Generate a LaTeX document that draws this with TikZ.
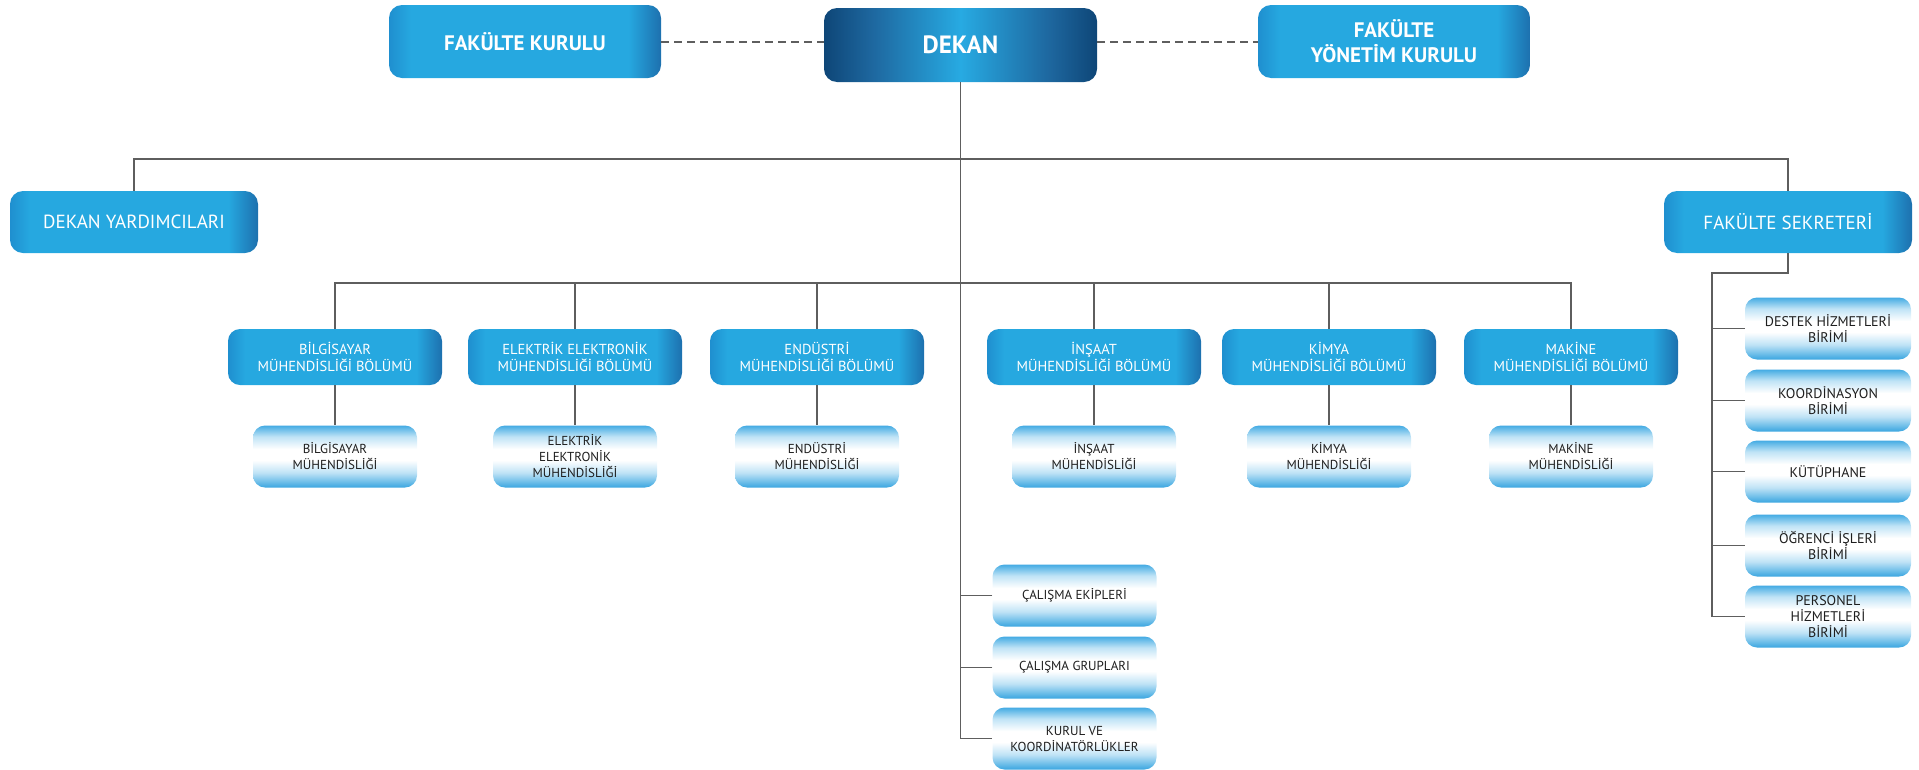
\documentclass[tikz,border=0pt]{standalone}
\usepackage{fontspec}
\setmainfont{PT Sans}
\definecolor{bL}{HTML}{1F8FCF}
\definecolor{bM}{HTML}{26A8E0}
\definecolor{bR}{HTML}{1D70AE}
\definecolor{dk}{HTML}{0E4677}
\definecolor{dk2}{HTML}{1E68A0}
\definecolor{br}{HTML}{27AAE2}
\definecolor{sb}{HTML}{3AA6E0}
\definecolor{sb2}{HTML}{44ABE3}
\definecolor{sl}{HTML}{BFE3F6}
\definecolor{lineC}{HTML}{5E5E5E}
\definecolor{txtC}{HTML}{1E1E1E}
\pgfdeclarehorizontalshading{blueh}{100bp}{color(0bp)=(bL); color(25bp)=(bL); color(29bp)=(bM); color(69bp)=(bM); color(75bp)=(bR); color(100bp)=(bR)}
\pgfdeclarehorizontalshading{dekanh}{100bp}{color(0bp)=(dk); color(25bp)=(dk); color(34bp)=(dk2); color(50bp)=(br); color(66bp)=(dk2); color(75bp)=(dk); color(100bp)=(dk)}
\pgfdeclareverticalshading{subv}{100bp}{color(0bp)=(sb); color(25bp)=(sb); color(37bp)=(sl); color(47bp)=(white); color(56bp)=(white); color(66bp)=(sl); color(75bp)=(sb2); color(100bp)=(sb2)}
\tikzset{
  conn/.style={draw=lineC, line width=1.6pt},
  dashc/.style={draw=lineC, line width=2pt, dash pattern=on 8pt off 5pt},
  boxbase/.style={rounded corners=13pt, align=center, inner sep=0pt},
  topbox/.style={boxbase, shading=blueh, text=white, minimum width=272pt, minimum height=73pt,
    font=\bfseries\fontsize{21}{25}\selectfont},
  dekanbox/.style={boxbase, shading=dekanh, text=white, minimum width=273pt, minimum height=74pt,
    font=\bfseries\fontsize{25}{30}\selectfont},
  sidebox/.style={boxbase, shading=blueh, text=white, minimum width=248pt, minimum height=62pt,
    font=\fontsize{19}{25}\selectfont},
  deptbox/.style={boxbase, rounded corners=12pt, shading=blueh, text=white, minimum width=214pt, minimum height=56pt,
    font=\fontsize{14.5}{16.5}\selectfont},
  subbox/.style={boxbase, rounded corners=12pt, shading=subv, text=txtC, minimum width=164pt, minimum height=62pt,
    font=\fontsize{13}{16}\selectfont},
  unitbox/.style={subbox, minimum width=166pt, font=\fontsize{14}{16}\selectfont},
}
\begin{document}
\begin{tikzpicture}[x=1pt,y=-1pt]
\useasboundingbox (0,0) rectangle (1919,769);
% top row
\node[topbox] (fk) at (525,41.5) {FAKÜLTE KURULU};
\node[dekanbox] (dekan) at (960.5,45) {DEKAN};
\node[topbox] (fyk) at (1394,41.5) {FAKÜLTE\\YÖNETİM KURULU};
% side boxes
\node[sidebox] (dy) at (134,222) {DEKAN YARDIMCILARI};
\node[sidebox] (fs) at (1788,222) {FAKÜLTE SEKRETERİ};
% departments
\node[deptbox] (b1) at (335,357) {BİLGİSAYAR\\MÜHENDİSLİĞİ BÖLÜMÜ};
\node[deptbox] (b2) at (575,357) {ELEKTRİK ELEKTRONİK\\MÜHENDİSLİĞİ BÖLÜMÜ};
\node[deptbox] (b3) at (817,357) {ENDÜSTRİ\\MÜHENDİSLİĞİ BÖLÜMÜ};
\node[deptbox] (b4) at (1094,357) {İNŞAAT\\MÜHENDİSLİĞİ BÖLÜMÜ};
\node[deptbox] (b5) at (1329,357) {KİMYA\\MÜHENDİSLİĞİ BÖLÜMÜ};
\node[deptbox] (b6) at (1571,357) {MAKİNE\\MÜHENDİSLİĞİ BÖLÜMÜ};
% programs
\node[subbox] (s1) at (335,456.5) {BİLGİSAYAR\\MÜHENDİSLİĞİ};
\node[subbox] (s2) at (575,456.5) {ELEKTRİK\\ELEKTRONİK\\MÜHENDİSLİĞİ};
\node[subbox] (s3) at (817,456.5) {ENDÜSTRİ\\MÜHENDİSLİĞİ};
\node[subbox] (s4) at (1094,456.5) {İNŞAAT\\MÜHENDİSLİĞİ};
\node[subbox] (s5) at (1329,456.5) {KİMYA\\MÜHENDİSLİĞİ};
\node[subbox] (s6) at (1571,456.5) {MAKİNE\\MÜHENDİSLİĞİ};
% bottom column
\node[subbox] (k1) at (1074.5,595.5) {ÇALIŞMA EKİPLERİ};
\node[subbox] (k2) at (1074.5,667.5) {ÇALIŞMA GRUPLARI};
\node[subbox] (k3) at (1074.5,738.5) {KURUL VE\\KOORDİNATÖRLÜKLER};
% right column
\node[unitbox] (r1) at (1828,328.5) {DESTEK HİZMETLERİ\\BİRİMİ};
\node[unitbox] (r2) at (1828,400.5) {KOORDİNASYON\\BİRİMİ};
\node[unitbox] (r3) at (1828,471.5) {KÜTÜPHANE};
\node[unitbox] (r4) at (1828,545.5) {ÖĞRENCİ İŞLERİ\\BİRİMİ};
\node[unitbox] (r5) at (1828,616.5) {PERSONEL\\HİZMETLERİ\\BİRİMİ};
% helper coordinates
\coordinate (hbar) at (0,159);
\coordinate (dbar) at (0,283);
\coordinate (rbar) at (0,273);
\coordinate (rx) at (1712,0);
% dashed links
\draw[dashc] (fk.east) -- (fk.east -| dekan.west);
\draw[dashc] (dekan.east |- fyk.west) -- (fyk.west);
% main spine
\draw[conn] (dekan.south) -- (dekan.south |- k3.west) -- (k3.west);
\draw[conn] (k1.west) -- (k1.west -| dekan.south);
\draw[conn] (k2.west) -- (k2.west -| dekan.south);
% first bar
\draw[conn] (dy.north) -- (dy.north |- hbar) -- (fs.north |- hbar) -- (fs.north);
% department bar
\draw[conn] (b1.north) -- (b1.north |- dbar) -- (b6.north |- dbar) -- (b6.north);
\foreach \i in {2,3,4,5} {\draw[conn] (b\i.north) -- (b\i.north |- dbar);}
\foreach \i in {1,...,6} {\draw[conn] (b\i.south) -- (s\i.north);}
% right column
\draw[conn] (fs.south) -- (fs.south |- rbar) -- (rx |- rbar) -- (rx |- r5.west) -- (r5.west);
\foreach \i in {1,2,3,4} {\draw[conn] (r\i.west) -- (r\i.west -| rx);}
\end{tikzpicture}
\end{document}
